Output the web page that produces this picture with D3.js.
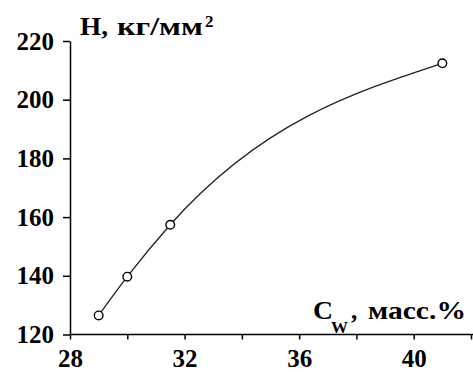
<!DOCTYPE html>
<html><head><meta charset="utf-8">
<script src="https://cdn.jsdelivr.net/npm/d3@7"></script>
<style>html,body{margin:0;padding:0;background:#fff;}svg{display:block;}</style>
</head><body>
<svg id="c" width="473" height="374"></svg>
<script>
const cw = [29, 30, 31.5, 41];
const hardness = [126.5, 139.7, 157.4, 212.4];
const xTicks = [28, 30, 32, 34, 36, 38, 40, 42];
const xTickLabels = ["28", "", "32", "", "36", "", "40", ""];
const yTicks = [120, 140, 160, 180, 200, 220];
const yTickLabels = ["120", "140", "160", "180", "200", "220"];

const svg = d3.select("#c");
const x = d3.scaleLinear().domain([28, 42]).range([70, 471]);
const y = d3.scaleLinear().domain([120, 220]).range([334.5, 41]);
const font = "'Liberation Serif','Times New Roman',serif";

// x axis
const xa = svg.append("g").attr("transform", `translate(0,${y(120)})`)
  .call(d3.axisBottom(x).tickValues(xTicks).tickFormat((d,i)=>xTickLabels[i]).tickSize(5).tickSizeOuter(0).tickPadding(10));
xa.select(".domain").attr("stroke","#000").attr("stroke-width",1.5).attr("d",`M${x(28)},0H473`);
xa.selectAll(".tick line").attr("stroke","#000").attr("stroke-width",1.5);
xa.selectAll(".tick text").attr("font-family",font).attr("font-weight","bold").attr("font-size","25px").attr("fill","#000");

// y axis
const ya = svg.append("g").attr("transform", `translate(${x(28)},0)`)
  .call(d3.axisLeft(y).tickValues(yTicks).tickFormat((d,i)=>yTickLabels[i]).tickSize(7).tickSizeOuter(0).tickPadding(9));
ya.select(".domain").attr("stroke","#000").attr("stroke-width",1.5);
ya.selectAll(".tick line").attr("stroke","#000").attr("stroke-width",1.5);
ya.selectAll(".tick text").attr("font-family",font).attr("font-weight","bold").attr("font-size","25px").attr("fill","#000");

// curve
const pts = cw.map((c,i)=>[c, hardness[i]]);
const line = d3.line().x(d=>x(d[0])).y(d=>y(d[1])).curve(d3.curveMonotoneX);
svg.append("path").datum(pts).attr("d", line).attr("fill","none").attr("stroke","#222").attr("stroke-width",1.3);

svg.selectAll("circle.m").data(pts).enter().append("circle").attr("class","m")
  .attr("cx", d=>x(d[0])).attr("cy", d=>y(d[1])).attr("r", 4.3)
  .attr("fill","#fff").attr("stroke","#000").attr("stroke-width",1.4);

function txt(str, xx, yy, size, len) {
  const t = svg.append("text").attr("x", xx).attr("y", yy)
    .attr("font-family", font).attr("font-weight","bold").attr("font-size", size+"px").attr("fill","#000").text(str);
  if (len) t.attr("textLength", len).attr("lengthAdjust","spacingAndGlyphs");
  return t;
}
// y title
txt("H,", 80, 34.5, 25, 28);
txt("кг/мм", 117, 34.5, 25, 86);
txt("2", 205, 26.5, 17);

// x title
txt("C", 313, 318.5, 25, 20);
txt("W", 331, 333, 17);
txt(",", 351, 318.5, 25);
txt("масс.%", 368, 318.5, 25, 98);
</script>
</body></html>
